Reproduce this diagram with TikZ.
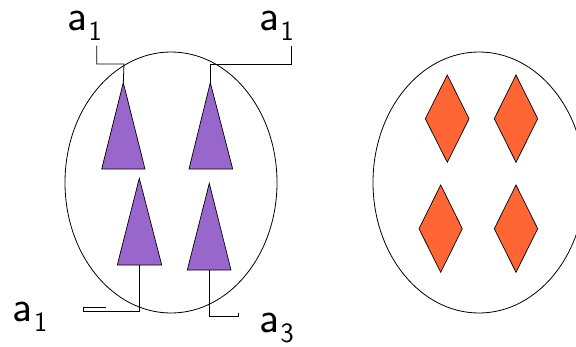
\documentclass[tikz,border=0pt]{standalone}
\usepackage{tikz}
\definecolor{tripurple}{RGB}{153,102,204}
\definecolor{diaorange}{RGB}{255,102,51}
\newcommand{\lbl}[1]{a\kern1.5pt{\fontsize{28}{30}\selectfont\raisebox{-10pt}{#1}}}
\tikzset{
  tri/.style={fill=tripurple,draw=black,line width=0.7pt,line join=miter},
  dia/.style={fill=diaorange,draw=black,line width=0.7pt},
  oval/.style={draw=black,line width=0.8pt},
  wire/.style={draw=black,line width=0.8pt},
  lab/.style={inner sep=0pt,font=\sffamily\fontsize{44}{50}\selectfont}
}
\begin{document}
\begin{tikzpicture}[x=1pt,y=-1pt]
\useasboundingbox (0,0) rectangle (576,346);
% ellipses
\draw[oval] (171,182.5) ellipse [x radius=106, y radius=130.5];
\begin{scope}
\clip (300,0) rectangle (576,346);
\draw[oval] (479,182.5) ellipse [x radius=106, y radius=130.5];
\end{scope}
% triangles
\coordinate (t1a) at (123.3,82.7); \coordinate (t1b) at (123.3,169);
\coordinate (t2a) at (210.3,82.7); \coordinate (t2b) at (210.3,169);
\coordinate (t3a) at (139.3,178.3); \coordinate (t3b) at (139.3,265);
\coordinate (t4a) at (209.3,183.3); \coordinate (t4b) at (209.3,270);
\filldraw[tri] (t1a) -- (145,169) -- (101.7,169) -- cycle;
\filldraw[tri] (t2a) -- (232.7,169) -- (189,169) -- cycle;
\filldraw[tri] (t3a) -- (161.7,265) -- (117.3,265) -- cycle;
\filldraw[tri] (t4a) -- (231,270) -- (187.3,270) -- cycle;
% diamonds
\filldraw[dia] (447.3,75) -- (469,118.7) -- (447.3,162.3) -- (425.3,118.7) -- cycle;
\filldraw[dia] (516,75) -- (537.7,118.7) -- (516,162.3) -- (494.3,118.7) -- cycle;
\filldraw[dia] (440.7,185) -- (462.3,228.7) -- (440.7,272.3) -- (419,228.7) -- cycle;
\filldraw[dia] (516,185) -- (537.7,228.7) -- (516,272.3) -- (494.3,228.7) -- cycle;
% labels (anchored at baseline of the letter a)
\node[lab,anchor=base west] (l1) at (67,30) {\lbl{1}};
\node[lab,anchor=base west] (l2) at (259,30) {\lbl{1}};
\node[lab,anchor=base west] (l3) at (12.5,321.5) {\lbl{1}};
\node[lab,anchor=base west] (l4) at (259,332) {\lbl{3}};
% connectors
\coordinate (c1) at (96.7,45.7);
\coordinate (c2) at (291.7,45.7);
\draw[wire] (c1) |- (124,64) -- (t1a);
\draw[wire] (c2) |- (210.3,64) -- (t2a);
\draw[wire] (t3b) |- (83.3,311.7) -- (83.3,307) -- (106,307);
\draw[wire] (t4b) |- (238.3,316) -- (238.3,313.3);
\end{tikzpicture}
\end{document}
